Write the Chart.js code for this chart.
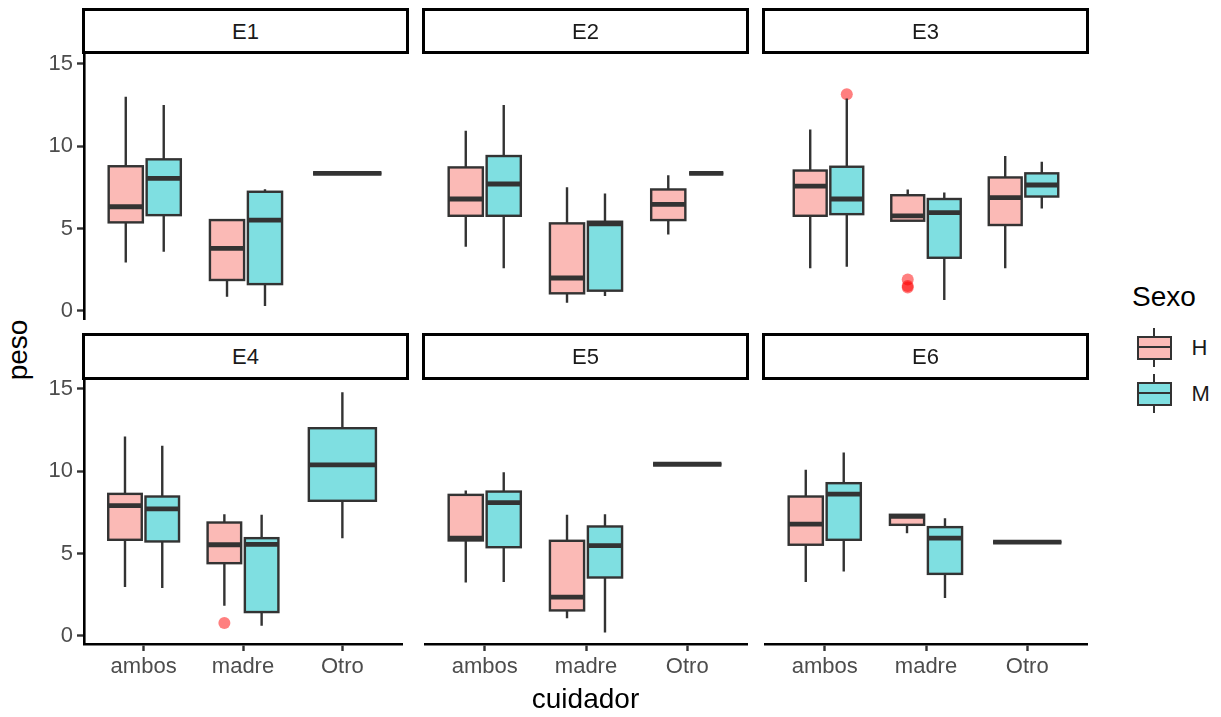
<!DOCTYPE html>
<html>
<head>
<meta charset="utf-8">
<script src="https://cdn.jsdelivr.net/npm/chart.js@4.4.1/dist/chart.umd.min.js"></script>
<style>
  html, body { margin: 0; padding: 0; background: #fff; }
  body { width: 1221px; height: 717px; position: relative; overflow: hidden; font-family: "Liberation Sans", Arial, sans-serif; }
  canvas { position: absolute; }
  .strip { position: absolute; box-sizing: border-box; border: 3px solid #000; background: #fff; z-index: 2; }
  .txt { position: absolute; white-space: nowrap; line-height: 1; z-index: 3; }
  .abs { position: absolute; box-sizing: border-box; }
</style>
</head>
<body>
<script>
// Categorías del eje x, facetas y marcas del eje y
const cuidadores = ["ambos", "madre", "Otro"];
const facetas = ["E1", "E2", "E3", "E4", "E5", "E6"];
const ticksPeso = [0, 5, 10, 15];
const sexos = ["H", "M"];

// [mín, Q1, mediana, Q3, máx] por cuidador (null = sin datos)
const e1H = [[2.94, 5.37, 6.32, 8.78, 13.0], [0.85, 1.87, 3.79, 5.51, 5.51], null];
const e1M = [[3.58, 5.81, 8.04, 9.20, 12.5], [0.29, 1.62, 5.51, 7.23, 7.39], [8.35, 8.35, 8.35, 8.35, 8.35]];
const e2H = [[3.89, 5.77, 6.79, 8.71, 10.94], [0.49, 1.06, 1.99, 5.31, 7.50], [4.64, 5.51, 6.46, 7.37, 8.24]];
const e2M = [[2.58, 5.77, 7.70, 9.40, 12.5], [0.89, 1.22, 5.28, 5.41, 7.13], [8.35, 8.35, 8.35, 8.35, 8.35]];
const e3H = [[2.58, 5.77, 7.57, 8.52, 11.02], [5.45, 5.47, 5.77, 7.02, 7.37], [2.58, 5.21, 6.87, 8.10, 9.40]];
const e3M = [[2.67, 5.87, 6.79, 8.75, 12.9], [0.65, 3.22, 5.96, 6.79, 7.18], [6.22, 6.94, 7.64, 8.35, 9.05]];
const e4H = [[2.96, 5.83, 7.91, 8.62, 12.1], [1.82, 4.41, 5.53, 6.88, 7.39], null];
const e4M = [[2.90, 5.73, 7.71, 8.46, 11.54], [0.61, 1.44, 5.55, 5.93, 7.35], [5.93, 8.20, 10.38, 12.61, 14.8]];
const e5H = [[3.24, 5.79, 5.93, 8.56, 8.82], [1.07, 1.54, 2.35, 5.77, 7.35], null];
const e5M = [[3.26, 5.38, 8.09, 8.76, 9.94], [0.20, 3.54, 5.48, 6.64, 7.39], [10.42, 10.42, 10.42, 10.42, 10.42]];
const e6H = [[3.26, 5.53, 6.78, 8.46, 10.08], [6.23, 6.74, 7.25, 7.35, 7.35], null];
const e6M = [[3.90, 5.83, 8.60, 9.27, 11.13], [2.29, 3.76, 5.93, 6.60, 7.14], [5.69, 5.69, 5.69, 5.69, 5.69]];

// Valores atípicos: [índice del cuidador, sexo, peso]
const e3Atipicos = [[1, "H", 1.90], [1, "H", 1.50], [1, "H", 1.42], [0, "M", 13.15]];
const e4Atipicos = [[1, "H", 0.77]];

const paneles = [
    { h: e1H, m: e1M, atip: [] }, { h: e2H, m: e2M, atip: [] }, { h: e3H, m: e3M, atip: e3Atipicos },
    { h: e4H, m: e4M, atip: e4Atipicos }, { h: e5H, m: e5M, atip: [] }, { h: e6H, m: e6M, atip: [] }
];

const fuente = '"Liberation Sans", Arial, sans-serif';
const relleno = { H: "rgba(248,118,109,0.5)", M: "rgba(0,191,196,0.5)" };
const colsX = [83.5, 423.5, 763.5];
const filasY = [52.5, 378];
const anchoP = 324, altoP = 266, altoStrip = 43.5, margen = 14;

// Posición (centro, ancho) de cada caja, esquivando como position_dodge2
function posiciones(h, m, i) {
    const c = i + 1;
    if (h[i] && m[i]) return { H: [c - 0.1875, 0.3375], M: [c + 0.1875, 0.3375] };
    if (h[i]) return { H: [c, 0.675] };
    if (m[i]) return { M: [c, 0.675] };
    return {};
}

function dibujarCaja(ctx, xs, ys, pos, s, fill) {
    const xl = xs.getPixelForValue(pos[0] - pos[1] / 2);
    const xr = xs.getPixelForValue(pos[0] + pos[1] / 2);
    const xm = xs.getPixelForValue(pos[0]);
    const [lo, q1, med, q3, hi] = s.map(v => ys.getPixelForValue(v));
    ctx.strokeStyle = "#333333";
    ctx.lineWidth = 2.4;
    ctx.lineCap = "butt";
    ctx.beginPath();
    ctx.moveTo(xm, q3); ctx.lineTo(xm, hi);
    ctx.moveTo(xm, q1); ctx.lineTo(xm, lo);
    ctx.stroke();
    ctx.fillStyle = fill;
    ctx.fillRect(xl, q3, xr - xl, q1 - q3);
    ctx.strokeRect(xl, q3, xr - xl, q1 - q3);
    ctx.lineWidth = 4.8;
    ctx.beginPath();
    ctx.moveTo(xl, med); ctx.lineTo(xr, med);
    ctx.stroke();
}

function pluginCajas(p) {
    return {
        id: "cajas",
        afterDatasetsDraw(chart) {
            const { ctx, scales } = chart;
            ctx.save();
            for (let i = 0; i < cuidadores.length; i++) {
                const pos = posiciones(p.h, p.m, i);
                if (pos.H) dibujarCaja(ctx, scales.x, scales.y, pos.H, p.h[i], relleno.H);
                if (pos.M) dibujarCaja(ctx, scales.x, scales.y, pos.M, p.m[i], relleno.M);
            }
            ctx.restore();
        }
    };
}

function sinPadding(ax) {
    ax.paddingLeft = 0; ax.paddingRight = 0; ax.paddingTop = 0; ax.paddingBottom = 0;
}

function texto(str, left, top, size, color, extra) {
    const d = document.createElement("div");
    d.className = "txt";
    d.textContent = str;
    d.style.left = left + "px";
    d.style.top = top + "px";
    d.style.fontSize = size + "px";
    d.style.color = color;
    if (extra) Object.assign(d.style, extra);
    document.body.appendChild(d);
    return d;
}

facetas.forEach((nombre, k) => {
    const col = k % 3, fila = Math.floor(k / 3);
    const conY = col === 0, conX = fila === 1;
    const anchoY = conY ? 50 : 0, altoX = conX ? 48 : 0;
    const izq = colsX[col], arriba = filasY[fila];
    const p = paneles[k];

    const canvas = document.createElement("canvas");
    canvas.width = anchoP + anchoY;
    canvas.height = altoP + altoX + 2 * margen;
    canvas.style.left = (izq - anchoY) + "px";
    canvas.style.top = (arriba - margen) + "px";
    document.body.appendChild(canvas);

    // puntos atípicos como dataset de dispersión
    const puntos = p.atip.map(a => {
        const pos = posiciones(p.h, p.m, a[0])[a[1]];
        return { x: pos[0], y: a[2] };
    });

    new Chart(canvas, {
        type: "scatter",
        data: {
            datasets: [{
                data: puntos,
                pointRadius: 6,
                pointHoverRadius: 6,
                backgroundColor: "rgba(255,0,0,0.5)",
                borderWidth: 0
            }]
        },
        options: {
            responsive: false,
            animation: false,
            events: [],
            layout: { padding: { top: margen, bottom: margen, left: 0, right: 0 } },
            plugins: { legend: { display: false }, tooltip: { enabled: false } },
            scales: {
                x: {
                    type: "linear", min: 0.4, max: 3.6, bounds: "data", display: conX,
                    afterBuildTicks: ax => { ax.ticks = cuidadores.map((c, i) => ({ value: i + 1 })); },
                    afterFit: ax => { if (conX) ax.height = altoX; sinPadding(ax); },
                    grid: { drawOnChartArea: false, tickLength: 7, tickColor: "#333333", tickWidth: 2.4 },
                    border: { color: "#000", width: 2.6 },
                    ticks: {
                        color: "#4d4d4d", font: { family: fuente, size: 22 }, padding: 3,
                        maxRotation: 0, autoSkip: false, callback: v => cuidadores[v - 1]
                    }
                },
                y: {
                    type: "linear", min: -0.5, max: 15.66, bounds: "data", display: conY,
                    afterBuildTicks: ax => { ax.ticks = ticksPeso.map(v => ({ value: v })); },
                    afterFit: ax => { if (conY) ax.width = anchoY; sinPadding(ax); },
                    grid: { drawOnChartArea: false, tickLength: 7, tickColor: "#333333", tickWidth: 2.4 },
                    border: { color: "#000", width: 2.6 },
                    ticks: { color: "#4d4d4d", font: { family: fuente, size: 22 }, padding: 4 }
                }
            }
        },
        plugins: [pluginCajas(p)]
    });

    // franja con el nombre de la faceta
    const s = document.createElement("div");
    s.className = "strip";
    s.style.left = (izq - 1.5) + "px";
    s.style.top = (arriba - altoStrip - 1.5) + "px";
    s.style.width = (anchoP + 3) + "px";
    s.style.height = (altoStrip + 3) + "px";
    document.body.appendChild(s);
    texto(nombre, izq, arriba - 31.8, 22, "#1a1a1a", { width: anchoP + "px", textAlign: "center" });
});

// títulos de los ejes
texto("cuidador", 485.5, 685, 28, "#000", { width: "200px", textAlign: "center" });
texto("peso", -82, 336, 28, "#000", { width: "200px", textAlign: "center", transform: "rotate(-90deg)" });

// leyenda
texto("Sexo", 1132, 283, 28, "#000");
function clave(sexo, cy) {
    const bigote = document.createElement("div");
    bigote.className = "abs";
    Object.assign(bigote.style, { left: "1153px", top: (cy - 19.5) + "px", width: "2.4px", height: "39px", background: "#333" });
    document.body.appendChild(bigote);
    const caja = document.createElement("div");
    caja.className = "abs";
    Object.assign(caja.style, {
        left: "1136.5px", top: (cy - 12) + "px", width: "35px", height: "24px",
        border: "2.4px solid #333", background: "#fff"
    });
    const fondo = document.createElement("div");
    Object.assign(fondo.style, { position: "absolute", inset: "0", background: relleno[sexo] });
    const mediana = document.createElement("div");
    Object.assign(mediana.style, { position: "absolute", left: "0", right: "0", top: "8.4px", height: "2.4px", background: "#333" });
    caja.appendChild(fondo);
    caja.appendChild(mediana);
    document.body.appendChild(caja);
    texto(sexo, 1191.5, cy + 8.5 - 18.6, 22, "#1a1a1a");
}
clave(sexos[0], 347.5);
clave(sexos[1], 393.5);
</script>
</body>
</html>
